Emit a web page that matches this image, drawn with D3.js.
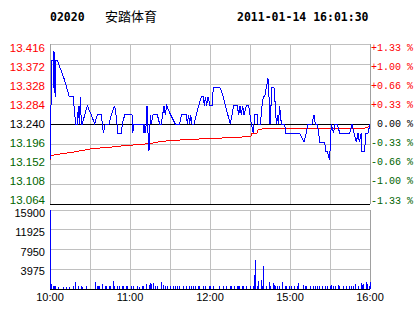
<!DOCTYPE html>
<meta charset="utf-8">
<script src="https://d3js.org/d3.v7.min.js"></script>
<style>
body { margin:0; background:#fff; overflow:hidden; }
</style>
<svg width="414" height="314" font-family="Liberation Sans, Arial, sans-serif"></svg>
<script>
// header
var code = '02020', name = '安踏体育', stamp = '2011-01-14 16:01:30';

// price axis
var prevClose = 13.240;
var priceTicks = [13.416, 13.372, 13.328, 13.284, 13.240, 13.196, 13.152, 13.108, 13.064];
var pctTicks = ['+1.33 %', '+1.00 %', '+0.66 %', '+0.33 %', ' 0.00 %', '-0.33 %', '-0.66 %', '-1.00 %', '-1.33 %'];
var volTicks = [15900, 11925, 7950, 3975];
// minutes since 10:00 (morning 10:00-12:30, afternoon 14:30-16:00)
var timeTicks = [0, 60, 120, 180, 240];
var timeLabels = ['10:00', '11:00', '12:00', '15:00', '16:00'];

// last price
var priceMin = [0, 0.5, 1, 1.5, 2.3, 2.6, 3, 3.5, 4, 4.5, 5.5, 8, 10.5, 12.5, 14.5, 17.5, 18, 19.25, 20.5, 21.25,
  22, 22.75, 23.5, 24.25, 26, 28, 31, 33.5, 35.5, 38.5, 39.25, 40, 41.5, 44.25, 46, 48.5, 49.5, 50.25, 50.5, 53.5,
  54.25, 56, 61.5, 62, 63, 69.75, 70.5, 71, 71.75, 72.75, 73.5, 74.25, 75, 75.5, 76, 77.25, 80.5, 82.25, 83.5, 85.5,
  86.5, 87.5, 90.5, 94, 97.25, 98.5, 102.25, 103, 104, 104.75, 105.5, 106.5, 108, 111.5, 113.5, 115, 115.75, 116.5, 117.5, 118.5,
  120, 121.5, 122.5, 127.5, 130, 131.5, 135.25, 137.75, 140.5, 141.5, 142.5, 143.5, 144.5, 145.5, 147.25, 149, 151, 152.5, 153.5, 155.5,
  156, 157.75, 159, 160, 161, 162.25, 163.5, 164.25, 165, 166.5, 168, 169, 169.75, 170.5, 171.25, 172.25, 173.5, 176, 176.75, 187.25,
  190.5, 192.25, 193.5, 196.5, 198, 199, 200.5, 201.5, 202.25, 206, 206.75, 208, 209.75, 210.25, 211, 212.75, 213.5, 215.5, 217.25, 218.5,
  224.75, 226.5, 228, 229.75, 231, 232, 233.5, 234, 236, 236.75, 238.5, 240];
var priceVal = [13.16, 13.24, 13.32, 13.38, 13.38, 13.32, 13.40, 13.32, 13.30, 13.38, 13.38, 13.36, 13.34, 13.32, 13.30, 13.30, 13.28, 13.24, 13.24, 13.28,
  13.24, 13.30, 13.24, 13.24, 13.26, 13.28, 13.26, 13.24, 13.26, 13.26, 13.24, 13.22, 13.24, 13.24, 13.26, 13.28, 13.26, 13.24, 13.22, 13.22,
  13.24, 13.26, 13.26, 13.22, 13.24, 13.24, 13.22, 13.24, 13.22, 13.28, 13.22, 13.18, 13.24, 13.26, 13.24, 13.26, 13.26, 13.24, 13.24, 13.28,
  13.26, 13.28, 13.26, 13.24, 13.24, 13.26, 13.26, 13.24, 13.26, 13.24, 13.26, 13.24, 13.24, 13.28, 13.30, 13.30, 13.28, 13.30, 13.28, 13.30,
  13.28, 13.28, 13.32, 13.32, 13.30, 13.28, 13.24, 13.28, 13.28, 13.26, 13.28, 13.26, 13.28, 13.26, 13.28, 13.28, 13.24, 13.22, 13.26, 13.26,
  13.24, 13.24, 13.28, 13.30, 13.30, 13.32, 13.34, 13.30, 13.24, 13.32, 13.32, 13.28, 13.24, 13.26, 13.24, 13.28, 13.24, 13.24, 13.22, 13.22,
  13.20, 13.22, 13.24, 13.24, 13.26, 13.24, 13.24, 13.22, 13.20, 13.20, 13.18, 13.18, 13.16, 13.20, 13.24, 13.22, 13.24, 13.24, 13.22, 13.22,
  13.22, 13.24, 13.22, 13.20, 13.22, 13.20, 13.22, 13.18, 13.18, 13.22, 13.22, 13.24];

// average price
var avgMin = [0, 0.75, 3, 9.75, 17.25, 22.5, 32.25, 45, 54.75, 67.5, 75, 84, 103.5, 120, 142.5, 150.75, 151.5, 155.25, 156, 159, 159.75, 236.25, 238.5, 240];
var avgVal = [13.160, 13.170, 13.172, 13.175, 13.178, 13.181, 13.186, 13.189, 13.192, 13.195, 13.197, 13.202, 13.206, 13.208, 13.211, 13.213, 13.220, 13.220, 13.227, 13.229, 13.231, 13.231, 13.233, 13.237];

// volume per minute
var volMin = [0, 1, 2, 3, 4, 6, 10, 12, 14, 17, 19, 21, 23, 24, 27, 34, 35, 36, 37, 39, 41, 42, 44, 45, 47, 48, 50, 52, 54, 55,
  57, 58, 61, 62, 65, 67, 69, 70, 72, 74, 75, 76, 77, 79, 80, 83, 85, 86, 88, 90, 92, 94, 95, 97, 100, 102, 104, 106, 107, 109,
  111, 112, 115, 116, 119, 120, 122, 127, 130, 132, 135, 136, 138, 140, 141, 142, 144, 145, 147, 150, 152, 153, 154, 155, 156, 158, 159, 160, 162, 164,
  165, 167, 168, 169, 170, 172, 174, 176, 177, 179, 181, 183, 185, 186, 190, 191, 192, 195, 197, 199, 200, 202, 204, 206, 208, 210, 211, 212, 214, 216,
  217, 220, 222, 224, 226, 227, 229, 231, 233, 234, 235, 237, 238, 239, 240];
var volVal = [15900, 1000, 600, 700, 600, 450, 450, 500, 500, 600, 1400, 600, 700, 500, 600, 1350, 650, 600, 650, 1000, 600, 600, 600, 700, 1600, 600, 600, 600, 600, 600,
  600, 700, 600, 600, 600, 450, 600, 600, 1000, 800, 1200, 1000, 1300, 700, 600, 1400, 900, 600, 600, 600, 600, 600, 600, 600, 600, 600, 600, 600, 600, 600,
  650, 600, 600, 700, 600, 600, 700, 600, 600, 600, 600, 600, 600, 600, 600, 600, 600, 600, 600, 600, 700, 2750, 5830, 600, 1670, 1800, 600, 4620, 600, 1400,
  600, 1200, 800, 600, 600, 600, 1450, 600, 600, 600, 600, 600, 700, 1200, 900, 700, 600, 600, 600, 600, 600, 600, 600, 600, 600, 700, 800, 600, 600, 800,
  600, 600, 700, 600, 600, 700, 1000, 600, 1200, 800, 1000, 1500, 1000, 600, 1400];

var red = '#ff0000', green = '#006400', grid = '#c0c0c0';

var svg = d3.select('svg');
var x = d3.scaleLinear().domain([0, 240]).range([50, 370]);
var y = d3.scaleLinear().domain([13.064, 13.416]).range([204, 44]);
var yLab = d3.scaleLinear().domain([13.416, 13.064]).range([47.5, 200]);
var yv = d3.scaleLinear().domain([0, 15900]).range([289, 210]);
var yvLab = d3.scaleLinear().domain([15900, 3975]).range([213, 271]);

function tickColor(v) {
    return Math.abs(v - prevClose) < 1e-6 ? '#000' : (v > prevClose ? red : green);
}

// header
var head = svg.append('g')
head.append('text').attr('x', 50).attr('y', 21).style('font-family', 'DejaVu Sans Mono').style('font-weight', 'bold').attr('font-size', 11.5).text(code)
head.append('text').attr('x', 105).attr('y', 21).style('font-family', 'Noto Sans CJK SC').attr('font-size', 13).text(name)
head.append('text').attr('x', 237).attr('y', 21).style('font-family', 'DejaVu Sans Mono').style('font-weight', 'bold').attr('font-size', 11.5).text(stamp)

// grids
var g = svg.append('g').attr('shape-rendering', 'crispEdges');
var vgrid = d3.range(30, 240, 30);
g.selectAll('.vp').data(vgrid).enter().append('line')
    .attr('x1', d => x(d)).attr('x2', d => x(d)).attr('y1', y(13.416)).attr('y2', y(13.064)).attr('stroke', grid)
g.selectAll('.vv').data(vgrid).enter().append('line')
    .attr('x1', d => x(d)).attr('x2', d => x(d)).attr('y1', yv(15900)).attr('y2', yv(0)).attr('stroke', grid)
g.selectAll('.hp').data(priceTicks).enter().append('line')
    .attr('x1', x(0)).attr('x2', x(240)).attr('y1', d => y(d)).attr('y2', d => y(d))
    .attr('stroke', d => (d === prevClose || d === 13.064) ? '#000' : grid)
g.selectAll('.hv').data(volTicks.concat([0])).enter().append('line')
    .attr('x1', x(0)).attr('x2', x(240)).attr('y1', d => yv(d)).attr('y2', d => yv(d))
    .attr('stroke', d => d === 0 ? '#000' : grid)
// frame sides
;[0, 240].forEach(function(t) {
    g.append('line').attr('x1', x(t)).attr('x2', x(t)).attr('y1', y(13.416)).attr('y2', y(13.064)).attr('stroke', '#a0a0a0')
    g.append('line').attr('x1', x(t)).attr('x2', x(t)).attr('y1', yv(15900)).attr('y2', yv(0)).attr('stroke', '#a0a0a0')
})

// labels
svg.append('g').selectAll('text').data(priceTicks).enter().append('text')
    .attr('x', 45).attr('y', d => yLab(d)).attr('dy', '0.35em').attr('text-anchor', 'end')
    .attr('font-size', 11.5).attr('fill', tickColor).text(d => d.toFixed(3))
svg.append('g').selectAll('text').data(priceTicks).enter().append('text')
    .attr('x', 371).attr('y', d => yLab(d)).attr('dy', '0.35em')
    .style('white-space', 'pre').style('font-family', 'Liberation Mono')
    .attr('font-size', 10).attr('fill', tickColor)
    .text((d, i) => pctTicks[i])
svg.append('g').selectAll('text').data(volTicks).enter().append('text')
    .attr('x', 45).attr('y', d => yvLab(d)).attr('dy', '0.35em').attr('text-anchor', 'end')
    .attr('font-size', 11).text(d => d)
svg.append('g').selectAll('text').data(timeTicks).enter().append('text')
    .attr('x', d => x(d)).attr('y', 297).attr('dy', '0.35em').attr('text-anchor', 'middle')
    .attr('font-size', 11).text((d, i) => timeLabels[i])

// volume bars
svg.append('g').attr('shape-rendering', 'crispEdges').selectAll('rect').data(volMin).enter().append('rect')
    .attr('x', d => Math.round(x(d))).attr('width', 1)
    .attr('y', (d, i) => yv(volVal[i])).attr('height', (d, i) => yv(0) - yv(volVal[i]))
    .attr('fill', '#0000ff')

// lines
var avgLine = d3.line().x(d => x(d)).y((d, i) => y(avgVal[i]));
var priceLine = d3.line().x(d => x(d)).y((d, i) => y(priceVal[i]));
svg.append('path').datum(avgMin).attr('d', avgLine).attr('fill', 'none').attr('stroke', red).attr('shape-rendering', 'crispEdges')
svg.append('path').datum(priceMin).attr('d', priceLine).attr('fill', 'none').attr('stroke', '#0000ff').attr('shape-rendering', 'crispEdges')
</script>
